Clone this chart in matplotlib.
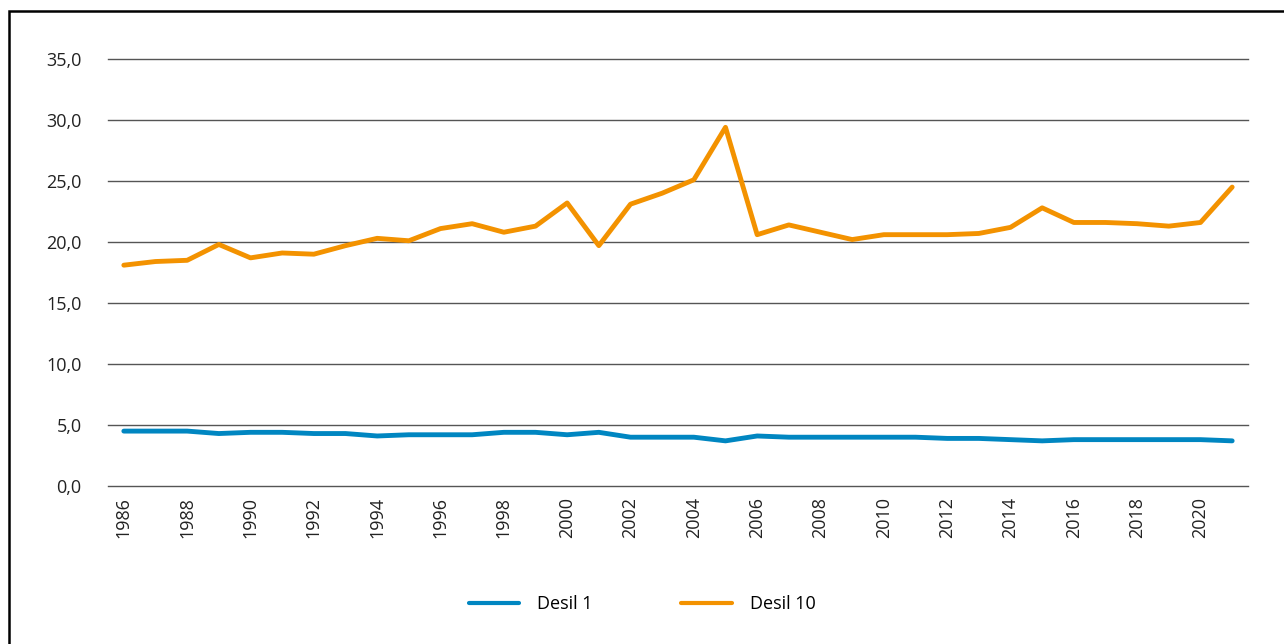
import matplotlib
matplotlib.use("Agg")
import matplotlib.pyplot as plt
import matplotlib.ticker as mticker
from matplotlib.patches import Rectangle

plt.rcParams.update({
    "font.family": ["Open Sans", "DejaVu Sans"],
    "font.size": 13,
})

# ── Data ───────────────────────────────────────────────────────────────────────
years = list(range(1986, 2022))

desil_1 = [4.5, 4.5, 4.5, 4.3, 4.4, 4.4, 4.3, 4.3, 4.1, 4.2,
           4.2, 4.2, 4.4, 4.4, 4.2, 4.4, 4.0, 4.0, 4.0, 3.7,
           4.1, 4.0, 4.0, 4.0, 4.0, 4.0, 3.9, 3.9, 3.8, 3.7,
           3.8, 3.8, 3.8, 3.8, 3.8, 3.7]

desil_10 = [18.1, 18.4, 18.5, 19.8, 18.7, 19.1, 19.0, 19.7, 20.3, 20.1,
            21.1, 21.5, 20.8, 21.3, 23.2, 19.7, 23.1, 24.0, 25.1, 29.4,
            20.6, 21.4, 20.8, 20.2, 20.6, 20.6, 20.6, 20.7, 21.2, 22.8,
            21.6, 21.6, 21.5, 21.3, 21.6, 24.5]

yticks = [0, 5, 10, 15, 20, 25, 30, 35]
xticks = list(range(1986, 2021, 2))

BLUE = "#0086C1"
ORANGE = "#F39200"

# ── Plot ───────────────────────────────────────────────────────────────────────
fig = plt.figure(figsize=(12.84, 6.44), dpi=100)
ax = fig.add_axes([108 / 1284, 1 - 486 / 644, 1140 / 1284, 427 / 644])

ax.plot(years, desil_1, color=BLUE, linewidth=3.5, solid_capstyle="round",
        label="Desil 1", zorder=3)
ax.plot(years, desil_10, color=ORANGE, linewidth=3.5, solid_capstyle="round",
        label="Desil 10", zorder=3)

ax.set_xlim(1985.5, 2021.5)
ax.set_ylim(0, 35)
ax.set_yticks(yticks)
ax.yaxis.set_major_formatter(mticker.FuncFormatter(lambda v, _: f"{v:.1f}".replace(".", ",")))
ax.set_xticks(xticks)
ax.set_xticklabels([str(y) for y in xticks], rotation=90)

ax.grid(axis="y", color="#555555", linewidth=1.0, zorder=0)
for gl in ax.get_ygridlines():
    gl.set_clip_on(False)
ax.set_axisbelow(True)
for side in ["top", "right", "left", "bottom"]:
    ax.spines[side].set_visible(False)
ax.tick_params(axis="both", length=0, colors="#222222", labelsize=13)
ax.tick_params(axis="y", pad=19)
ax.tick_params(axis="x", pad=8)

leg = fig.legend(loc="center", bbox_to_anchor=(0.5, 1 - 604 / 644), ncol=2,
                 frameon=False, handlelength=2.8, handletextpad=1.0,
                 columnspacing=4.9, fontsize=13)
for line in leg.get_lines():
    line.set_linewidth(3.0)

# figure frame
fig.patches.append(Rectangle((9 / 1284, -0.1), 1.2, 1.1 - 11 / 644,
                             transform=fig.transFigure, fill=False,
                             edgecolor="black", linewidth=1.8))

fig.savefig("out.png", dpi=100)
